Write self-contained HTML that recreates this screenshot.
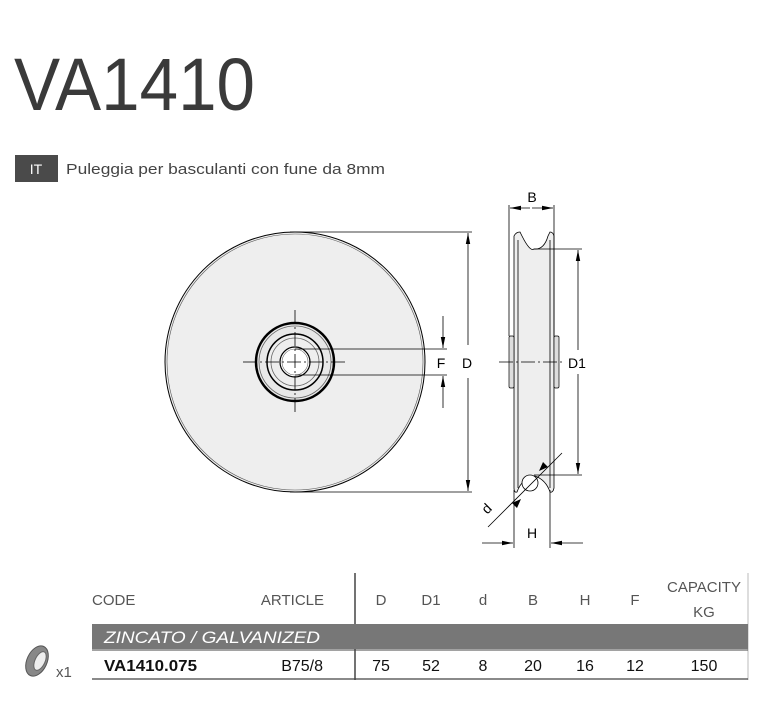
<!DOCTYPE html>
<html><head><meta charset="utf-8"><style>
body{margin:0;width:769px;height:704px;background:#fff;overflow:hidden;font-family:"Liberation Sans",sans-serif;}
</style></head><body>
<svg width="769" height="704" viewBox="0 0 769 704" xmlns="http://www.w3.org/2000/svg" font-family="Liberation Sans, sans-serif">
<defs>
<marker id="a" viewBox="0 0 10 10" refX="10" refY="5" markerUnits="userSpaceOnUse" markerWidth="11" markerHeight="11" orient="auto-start-reverse"><path d="M0,3 L10,5 L0,7 z" fill="#000"/></marker>
</defs>
<text x="14" y="110" font-size="74" fill="#3a3a3a" textLength="241" lengthAdjust="spacingAndGlyphs">VA1410</text>
<rect x="15" y="155" width="43" height="27" fill="#4a4a4a"/>
<text x="36" y="174" font-size="14" fill="#fff" text-anchor="middle">IT</text>
<text x="66" y="174" font-size="15" fill="#444" textLength="319" lengthAdjust="spacingAndGlyphs">Puleggia per basculanti con fune da 8mm</text>

<!-- front view -->
<circle cx="295" cy="362" r="130" fill="#eeeeee" stroke="#000" stroke-width="1"/>
<circle cx="295" cy="362" r="128" fill="none" stroke="#555" stroke-width="0.6"/>
<circle cx="295" cy="362" r="39" fill="#e8e8e8" stroke="#000" stroke-width="2.5"/>
<circle cx="295" cy="362" r="36" fill="none" stroke="#666" stroke-width="0.8"/>
<circle cx="295" cy="362" r="28" fill="#eee" stroke="#000" stroke-width="1.5"/>
<circle cx="295" cy="362" r="24" fill="none" stroke="#666" stroke-width="0.8"/>
<circle cx="295" cy="362" r="15" fill="#fff" stroke="#000" stroke-width="1.2"/>
<circle cx="295" cy="362" r="13" fill="none" stroke="#666" stroke-width="0.6"/>
<g stroke="#000" stroke-width="0.8">
<line x1="243" y1="362" x2="347" y2="362" stroke-dasharray="14,3,2,3"/>
<line x1="295" y1="310" x2="295" y2="414" stroke-dasharray="14,3,2,3"/>
<line x1="290" y1="232" x2="472" y2="232"/>
<line x1="290" y1="492" x2="472" y2="492"/>
<line x1="468" y1="345" x2="468" y2="233" marker-end="url(#a)"/>
<line x1="468" y1="378" x2="468" y2="491" marker-end="url(#a)"/>
<line x1="295" y1="349" x2="447" y2="349"/>
<line x1="295" y1="375" x2="447" y2="375"/>
<line x1="443" y1="316" x2="443" y2="348" marker-end="url(#a)"/>
<line x1="443" y1="408" x2="443" y2="376" marker-end="url(#a)"/>
</g>
<text x="441" y="368" font-size="14" text-anchor="middle">F</text>
<text x="467" y="368" font-size="14" text-anchor="middle">D</text>

<!-- side view -->
<path d="M514,236 Q516,232 520,232 L522,236 Q530,252 534,249 Q544,250 548,236 L550,232 Q553,232 554,236 L554,488 Q553,493 550,492 Q546,480 535,476 Q522,478 517,492 Q514,493 514,488 Z" fill="#eee" stroke="#000" stroke-width="0.8"/>
<line x1="518" y1="240" x2="518" y2="488" stroke="#000" stroke-width="0.8"/>
<line x1="550" y1="240" x2="550" y2="488" stroke="#000" stroke-width="0.8"/>
<rect x="509" y="336" width="5" height="52" rx="1.5" fill="#ddd" stroke="#000" stroke-width="0.7"/>
<rect x="554" y="336" width="5" height="52" rx="1.5" fill="#ddd" stroke="#000" stroke-width="0.7"/>
<circle cx="530" cy="483" r="8" fill="#fff" stroke="#000" stroke-width="0.8"/>
<g stroke="#000" stroke-width="0.8">
<line x1="499" y1="362" x2="562" y2="362" stroke-dasharray="14,3,2,3"/>
<line x1="509" y1="205" x2="509" y2="336"/>
<line x1="554" y1="205" x2="554" y2="336"/>
<line x1="530" y1="208" x2="510" y2="208" marker-end="url(#a)"/>
<line x1="532" y1="208" x2="553" y2="208" marker-end="url(#a)"/>
<line x1="534" y1="249" x2="582" y2="249"/>
<line x1="534" y1="475" x2="582" y2="475"/>
<line x1="578" y1="350" x2="578" y2="250" marker-end="url(#a)"/>
<line x1="578" y1="374" x2="578" y2="474" marker-end="url(#a)"/>
<line x1="488" y1="527" x2="562" y2="453"/>
<line x1="514" y1="490" x2="514" y2="548"/>
<line x1="550" y1="490" x2="550" y2="548"/>
<line x1="482" y1="543" x2="513" y2="543" marker-end="url(#a)"/>
<line x1="583" y1="543" x2="551" y2="543" marker-end="url(#a)"/>
</g>
<path d="M512,503 l9,-4 l-4,9 z M548,467 l-9,4 l4,-9 z" fill="#000"/>
<text x="532" y="202" font-size="14" text-anchor="middle">B</text>
<text x="577" y="368" font-size="14" text-anchor="middle">D1</text>
<text x="532" y="538" font-size="14" text-anchor="middle">H</text>
<text x="0" y="0" font-size="14" text-anchor="middle" transform="translate(490,512) rotate(-45)">d</text>

<!-- table -->
<g font-size="15" fill="#555">
<text x="92" y="605">CODE</text>
<text x="324" y="605" text-anchor="end">ARTICLE</text>
<text x="381" y="605" text-anchor="middle">D</text>
<text x="431" y="605" text-anchor="middle">D1</text>
<text x="483" y="605" text-anchor="middle">d</text>
<text x="533" y="605" text-anchor="middle">B</text>
<text x="585" y="605" text-anchor="middle">H</text>
<text x="635" y="605" text-anchor="middle">F</text>
<text x="704" y="592" text-anchor="middle">CAPACITY</text>
<text x="704" y="617" text-anchor="middle">KG</text>
</g>
<line x1="355" y1="573" x2="355" y2="680" stroke="#444" stroke-width="1.5"/>
<line x1="748" y1="573" x2="748" y2="680" stroke="#bbb" stroke-width="1"/>
<rect x="92" y="624" width="656" height="25" fill="#777"/>
<text x="104" y="643" font-size="17" font-style="italic" fill="#fff" textLength="216" lengthAdjust="spacingAndGlyphs">ZINCATO / GALVANIZED</text>
<line x1="92" y1="650" x2="748" y2="650" stroke="#444" stroke-width="1"/>
<line x1="92" y1="679" x2="748" y2="679" stroke="#444" stroke-width="1.2"/>
<g font-size="16" fill="#111">
<text x="104" y="671" font-weight="bold" textLength="93" lengthAdjust="spacingAndGlyphs">VA1410.075</text>
<text x="323" y="671" text-anchor="end">B75/8</text>
<text x="381" y="671" text-anchor="middle">75</text>
<text x="431" y="671" text-anchor="middle">52</text>
<text x="483" y="671" text-anchor="middle">8</text>
<text x="533" y="671" text-anchor="middle">20</text>
<text x="585" y="671" text-anchor="middle">16</text>
<text x="635" y="671" text-anchor="middle">12</text>
<text x="704" y="671" text-anchor="middle">150</text>
</g>
<ellipse cx="37" cy="661" rx="10" ry="16" transform="rotate(25 37 661)" fill="#888" stroke="#555"/>
<ellipse cx="40" cy="661" rx="5" ry="10" transform="rotate(25 40 661)" fill="#eee" stroke="#666"/>
<text x="56" y="677" font-size="15" fill="#555">x1</text>
</svg>
</body></html>
